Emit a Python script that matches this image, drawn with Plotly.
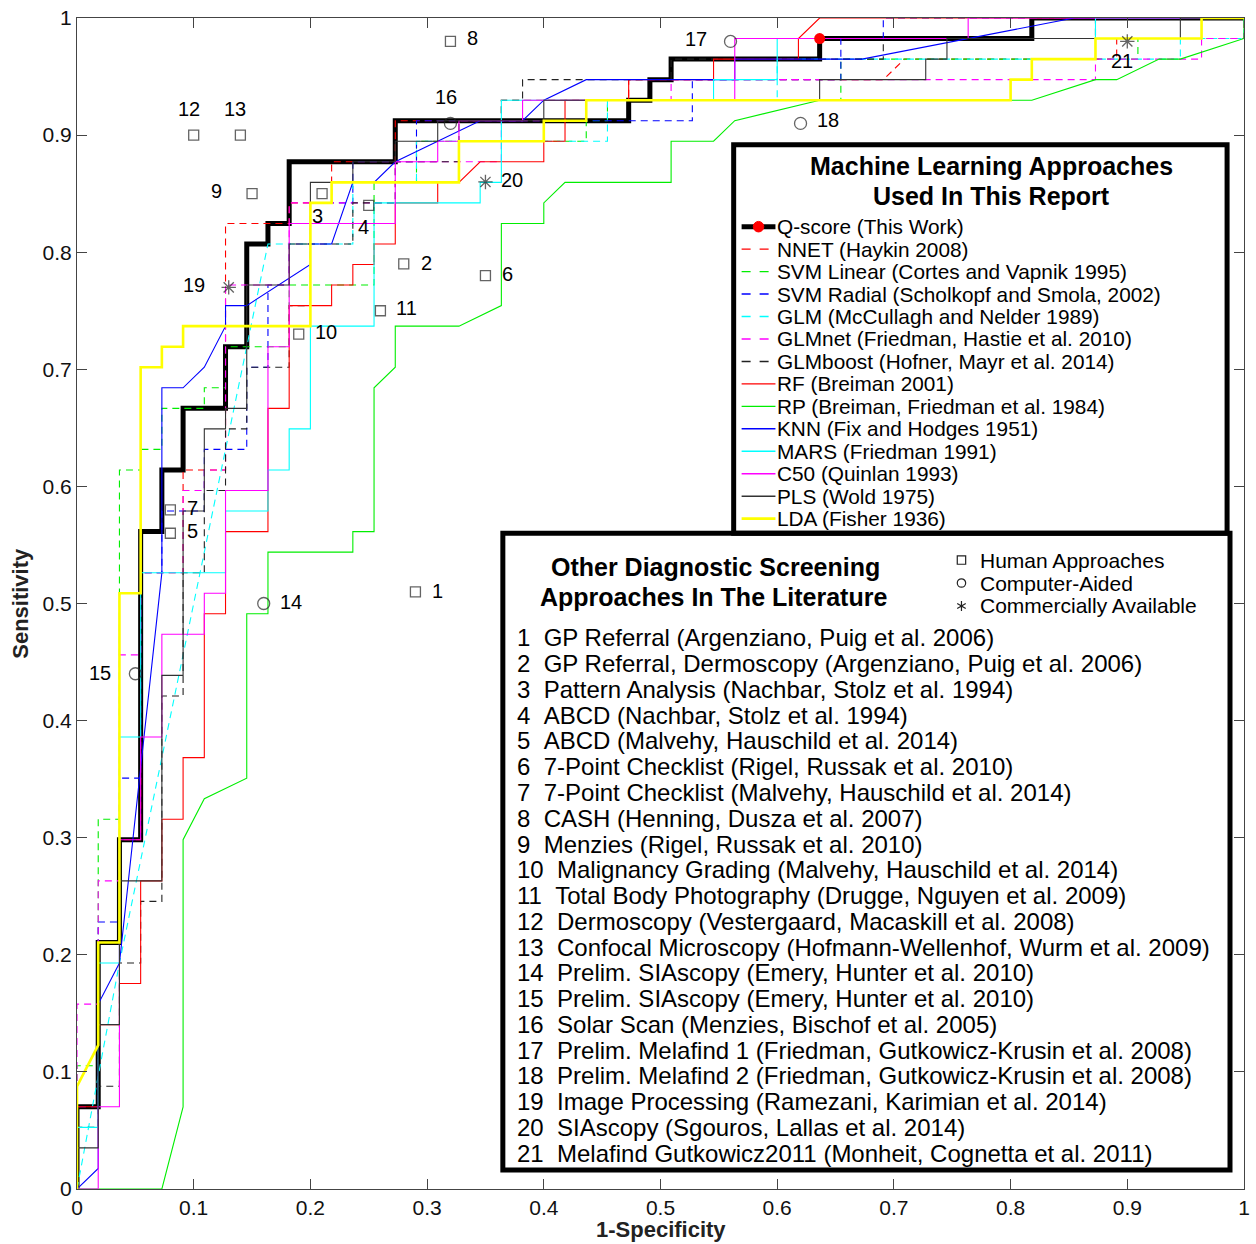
import plotly.graph_objects as go

# Lesion counts behind the ROC rates
N_NEG = 55
N_POS = 57

# ---------------- ROC operating points (false-positive count, true-positive count) ----------------
qscore_fp = [0, 0, 1, 1, 2, 2, 3, 3, 4, 4, 5, 5, 7, 7, 8, 8, 9, 9, 10, 10, 15, 15, 26, 26, 27, 27, 28, 28, 35, 35, 45, 45, 55]
qscore_tp = [0, 4, 4, 12, 12, 17, 17, 32, 32, 35, 35, 38, 38, 41, 41, 46, 46, 47, 47, 50, 50, 52, 52, 53, 53, 54, 54, 55, 55, 56, 56, 57, 57]
qscore_cut_fp = [35]
qscore_cut_tp = [56]

nnet_fp = [0, 0, 1, 1, 2, 2, 3, 3, 5, 5, 7, 7, 10, 10, 12, 12, 15, 15, 20, 20, 26, 26, 38, 39, 49, 49, 55, 55]
nnet_tp = [0, 4, 4, 12, 12, 17, 17, 30, 30, 35, 35, 47, 47, 48, 48, 50, 50, 52, 52, 53, 53, 54, 54, 55, 55, 56, 56, 57]

svml_fp = [0, 0, 1, 1, 2, 2, 3, 3, 4, 4, 6, 6, 7, 7, 10, 10, 14, 14, 16, 16, 24, 24, 25, 25, 36, 36, 50, 50, 55, 55]
svml_tp = [0, 6, 6, 18, 18, 35, 35, 36, 36, 38, 38, 39, 39, 41, 41, 44, 44, 49, 49, 51, 51, 52, 52, 53, 53, 55, 55, 56, 56, 57]

svmr_fp = [0, 0, 1, 1, 2, 2, 3, 3, 4, 4, 6, 6, 8, 8, 9, 9, 10, 10, 11, 11, 13, 13, 16, 16, 29, 29, 36, 36, 38, 38, 55]
svmr_tp = [0, 4, 4, 13, 13, 20, 20, 30, 30, 33, 33, 36, 36, 40, 40, 44, 44, 46, 46, 48, 48, 50, 50, 52, 52, 54, 54, 56, 56, 57, 57]

glm_fp = [0, 2, 9, 13, 13, 16, 16, 25, 25, 33, 33, 52, 52, 55, 55]
glm_tp = [0, 11, 46, 46, 49, 49, 51, 51, 53, 53, 55, 55, 56, 56, 57]

glmnet_fp = [0, 0, 1, 1, 2, 2, 3, 3, 5, 5, 6, 6, 7, 7, 10, 10, 15, 15, 20, 20, 24, 24, 28, 28, 48, 48, 53, 53, 55, 55]
glmnet_tp = [0, 9, 9, 15, 15, 26, 26, 30, 30, 34, 34, 35, 35, 44, 44, 48, 48, 50, 50, 52, 52, 53, 53, 54, 54, 55, 55, 56, 56, 57]

glmboost_fp = [0, 0, 1, 1, 2, 2, 3, 3, 4, 4, 5, 5, 6, 6, 7, 7, 8, 8, 10, 10, 11, 11, 13, 13, 15, 15, 18, 18, 20, 20, 21, 21, 28, 28, 38, 38, 48, 48, 55]
glmboost_tp = [0, 3, 3, 5, 5, 11, 11, 14, 14, 24, 24, 30, 30, 34, 34, 37, 37, 40, 40, 43, 43, 46, 46, 48, 48, 50, 50, 52, 52, 53, 53, 54, 54, 55, 55, 56, 56, 57, 57]

rf_fp = [0, 0, 1, 1, 2, 2, 3, 3, 4, 4, 5, 5, 6, 6, 7, 7, 9, 9, 10, 10, 12, 12, 13, 13, 14, 14, 15, 15, 17, 17, 18, 19, 22, 22, 23, 23, 26, 26, 30, 30, 34, 34, 35, 55]
rf_tp = [0, 4, 4, 8, 8, 10, 10, 15, 15, 18, 18, 21, 21, 28, 28, 32, 32, 38, 38, 43, 43, 44, 44, 45, 45, 46, 46, 48, 48, 49, 49, 50, 50, 51, 51, 53, 53, 54, 54, 55, 55, 56, 57, 57]

rp_fp = [0, 4, 5, 5, 6, 8, 8, 9, 9, 13, 13, 14, 14, 15, 15, 18, 20, 20, 22, 22, 23, 28, 28, 30, 31, 35, 45, 48, 49, 51, 52, 55, 55]
rp_tp = [0, 0, 4, 17, 19, 20, 28, 28, 31, 31, 32, 32, 39, 40, 42, 42, 43, 47, 47, 48, 49, 49, 51, 51, 52, 53, 53, 54, 54, 55, 55, 56, 57]

knn_fp = [0, 1, 1, 2, 4, 4, 5, 6, 7, 7, 8, 11, 11, 12, 13, 14, 15, 17, 19, 21, 22, 24, 31, 31, 37, 47, 55]
knn_tp = [0, 1, 9, 11, 30, 39, 39, 40, 42, 43, 43, 45, 46, 46, 49, 49, 50, 51, 52, 52, 53, 54, 54, 55, 55, 57, 57]

mars_fp = [0, 0, 1, 1, 2, 2, 3, 3, 7, 7, 9, 9, 10, 10, 11, 11, 14, 14, 19, 19, 20, 20, 30, 30, 33, 33, 48, 48, 55]
mars_tp = [0, 3, 3, 11, 11, 22, 22, 30, 30, 33, 33, 35, 35, 37, 37, 42, 42, 48, 48, 49, 49, 53, 53, 54, 54, 56, 56, 57, 57]

c50_fp = [0, 1, 1, 2, 2, 3, 3, 4, 4, 6, 6, 7, 7, 9, 9, 10, 10, 15, 15, 17, 17, 18, 18, 21, 21, 31, 31, 42, 42, 55]
c50_tp = [0, 0, 4, 4, 17, 17, 22, 22, 27, 27, 29, 29, 34, 34, 41, 41, 47, 47, 50, 50, 51, 51, 52, 52, 53, 53, 56, 56, 57, 57]

pls_fp = [0, 0, 1, 1, 2, 2, 4, 4, 5, 5, 6, 6, 7, 7, 8, 8, 10, 10, 11, 11, 13, 13, 15, 15, 17, 17, 22, 22, 35, 35, 40, 40, 41, 41, 52, 52, 55]
pls_tp = [0, 2, 2, 8, 8, 15, 15, 25, 25, 33, 33, 37, 37, 38, 38, 44, 44, 46, 46, 49, 49, 50, 50, 51, 51, 52, 52, 53, 53, 54, 54, 55, 55, 56, 56, 57, 57]

lda_fp = [0, 0, 1, 1, 2, 2, 3, 3, 4, 4, 5, 5, 11, 11, 12, 12, 18, 18, 22, 22, 24, 24, 44, 44, 45, 45, 48, 48, 53, 53, 55]
lda_tp = [0, 5, 7, 12, 12, 29, 29, 40, 40, 41, 41, 42, 42, 48, 48, 49, 49, 51, 51, 52, 52, 53, 53, 54, 54, 55, 55, 56, 56, 57, 57]

# ---------------- Published screening approaches (1-specificity, sensitivity) ----------------
lit_ids = ["1", "2", "3", "4", "5", "6", "7", "8", "9", "10", "11",
           "12", "13", "14", "15", "16", "17", "18", "19", "20", "21"]
lit_fpr = [0.29, 0.28, 0.21, 0.25, 0.08, 0.35, 0.08, 0.32, 0.15, 0.19, 0.26,
           0.10, 0.14, 0.16, 0.05, 0.32, 0.56, 0.62, 0.13, 0.35, 0.90]
lit_sens = [0.51, 0.79, 0.85, 0.84, 0.56, 0.78, 0.58, 0.98, 0.85, 0.73, 0.75,
            0.90, 0.90, 0.50, 0.44, 0.91, 0.98, 0.91, 0.77, 0.86, 0.98]
lit_kind = ["human"] * 13 + ["computer"] * 5 + ["commercial"] * 3

lit_refs = [
    "GP Referral (Argenziano, Puig et al. 2006)",
    "GP Referral, Dermoscopy (Argenziano, Puig et al. 2006)",
    "Pattern Analysis (Nachbar, Stolz et al. 1994)",
    "ABCD (Nachbar, Stolz et al. 1994)",
    "ABCD (Malvehy, Hauschild et al. 2014)",
    "7-Point Checklist (Rigel, Russak et al. 2010)",
    "7-Point Checklist (Malvehy, Hauschild et al. 2014)",
    "CASH (Henning, Dusza et al. 2007)",
    "Menzies (Rigel, Russak et al. 2010)",
    "Malignancy Grading (Malvehy, Hauschild et al. 2014)",
    "Total Body Photography (Drugge, Nguyen et al. 2009)",
    "Dermoscopy (Vestergaard, Macaskill et al. 2008)",
    "Confocal Microscopy (Hofmann-Wellenhof, Wurm et al. 2009)",
    "Prelim. SIAscopy (Emery, Hunter et al. 2010)",
    "Prelim. SIAscopy (Emery, Hunter et al. 2010)",
    "Solar Scan (Menzies, Bischof et al. 2005)",
    "Prelim. Melafind 1 (Friedman, Gutkowicz-Krusin et al. 2008)",
    "Prelim. Melafind 2 (Friedman, Gutkowicz-Krusin et al. 2008)",
    "Image Processing (Ramezani, Karimian et al. 2014)",
    "SIAscopy (Sgouros, Lallas et al. 2014)",
    "Melafind Gutkowicz2011 (Monheit, Cognetta et al. 2011)",
]

FONT = "Liberation Sans, Arial, Helvetica, sans-serif"
MARK = "#222222"

# name, fp, tp, colour, dash, width
models = [
    ("NNET (Haykin 2008)", nnet_fp, nnet_tp, "#ff0000", "7px,5px", 1.1),
    ("SVM Linear (Cortes and Vapnik 1995)", svml_fp, svml_tp, "#00ee00", "7px,5px", 1.1),
    ("SVM Radial (Scholkopf and Smola, 2002)", svmr_fp, svmr_tp, "#0000ff", "7px,5px", 1.1),
    ("GLM (McCullagh and Nelder 1989)", glm_fp, glm_tp, "#00ffff", "7px,5px", 1.1),
    ("GLMnet (Friedman, Hastie et al. 2010)", glmnet_fp, glmnet_tp, "#ff00ff", "7px,5px", 1.1),
    ("GLMboost (Hofner, Mayr et al. 2014)", glmboost_fp, glmboost_tp, "#222222", "7px,5px", 1.1),
    ("RF (Breiman 2001)", rf_fp, rf_tp, "#ff0000", "solid", 1.1),
    ("RP (Breiman, Friedman et al. 1984)", rp_fp, rp_tp, "#00ee00", "solid", 1.1),
    ("KNN (Fix and Hodges 1951)", knn_fp, knn_tp, "#0000ff", "solid", 1.1),
    ("MARS (Friedman 1991)", mars_fp, mars_tp, "#00ffff", "solid", 1.1),
    ("C50 (Quinlan 1993)", c50_fp, c50_tp, "#ff00ff", "solid", 1.1),
    ("PLS (Wold 1975)", pls_fp, pls_tp, "#333333", "solid", 1.1),
    ("LDA (Fisher 1936)", lda_fp, lda_tp, "#ffff00", "solid", 2.6),
]

fig = go.Figure()

# Q-score drawn first so the thinner model curves sit on top of it
fig.add_trace(go.Scatter(
    x=[v / N_NEG for v in qscore_fp], y=[v / N_POS for v in qscore_tp],
    mode="lines", line=dict(color="black", width=5), showlegend=False))

for name, fp, tp, col, dash, w in models:
    fig.add_trace(go.Scatter(
        x=[v / N_NEG for v in fp], y=[v / N_POS for v in tp],
        mode="lines", name=name, line=dict(color=col, dash=dash, width=w),
        showlegend=False))

fig.add_trace(go.Scatter(
    x=[v / N_NEG for v in qscore_cut_fp], y=[v / N_POS for v in qscore_cut_tp],
    mode="markers", marker=dict(color="red", size=11), showlegend=False))

# Literature points
symbol_of = {"human": "square-open", "computer": "circle-open", "commercial": "asterisk-open"}
size_of = {"human": 10, "computer": 12, "commercial": 12}
fig.add_trace(go.Scatter(
    x=lit_fpr, y=lit_sens, mode="markers", showlegend=False,
    marker=dict(symbol=[symbol_of[k] for k in lit_kind],
                size=[size_of[k] for k in lit_kind],
                color=MARK, line=dict(width=1.3, color=MARK))))

# label placement for each literature point (pixel shift, anchor)
label_place = {
    "1": (15, 1, "left"), "2": (15, 1, "left"), "3": (-5, -22, "center"), "4": (-5, -22, "center"),
    "5": (15, 2, "left"), "6": (15, 2, "left"), "7": (15, 2, "left"), "8": (15, 3, "left"),
    "9": (-28, 3, "right"), "10": (14, 2, "left"), "11": (14, 3, "left"), "12": (-5, 26, "center"),
    "13": (-5, 26, "center"), "14": (14, 2, "left"), "15": (-22, 1, "right"), "16": (-4, 26, "center"),
    "17": (-22, 2, "right"), "18": (14, 3, "left"), "19": (-22, 2, "right"), "20": (14, 2, "left"),
    "21": (-5, -20, "center"),
}
annotations = []
for lid, fx, sy in zip(lit_ids, lit_fpr, lit_sens):
    dx, dy, anc = label_place[lid]
    annotations.append(dict(x=fx, y=sy, xref="x", yref="y", text=lid, showarrow=False,
                            xanchor=anc, yanchor="middle", xshift=dx, yshift=dy,
                            font=dict(family=FONT, size=20, color="black")))

shapes = []
BOX1 = dict(x0=0.5627, x1=0.9855, y0=0.560, y1=0.8917)
BOX2 = dict(x0=0.3649, x1=0.9880, y0=0.0162, y1=0.560)
for b in (BOX1, BOX2):
    shapes.append(dict(type="rect", xref="x", yref="y", layer="above",
                       line=dict(color="black", width=5), fillcolor="rgba(255,255,255,0)", **b))

# ---- Box 1: machine-learning legend ----
title1_x = 0.7835
annotations.append(dict(x=title1_x, y=0.8738, xref="x", yref="y", showarrow=False,
                        text="<b>Machine Learning Approaches</b>", xanchor="center", yanchor="middle",
                        font=dict(family=FONT, size=25, color="black")))
annotations.append(dict(x=title1_x, y=0.8483, xref="x", yref="y", showarrow=False,
                        text="<b>Used In This Report</b>", xanchor="center", yanchor="middle",
                        font=dict(family=FONT, size=25, color="black")))

row0, row_step = 0.8218, 0.01918
sw_x0, sw_x1, txt_x = 0.5695, 0.5985, 0.5993
legend_rows = [("Q-score (This Work)", "black", "solid", 5)] + [(m[0], m[3], m[4], m[5]) for m in models]
for i, (label, col, dash, w) in enumerate(legend_rows):
    yy = row0 - i * row_step
    dash_name = "solid" if dash == "solid" else "dash"
    shapes.append(dict(type="line", xref="x", yref="y", layer="above",
                       x0=sw_x0, x1=sw_x1, y0=yy, y1=yy,
                       line=dict(color=col, width=w if w > 2 else 1.4, dash=dash_name)))
    annotations.append(dict(x=txt_x, y=yy, xref="x", yref="y", showarrow=False, text=label,
                            xanchor="left", yanchor="middle", borderpad=0,
                            font=dict(family=FONT, size=20.8, color="black")))
# red cut-off dot on the Q-score swatch
dot_x = (sw_x0 + sw_x1) / 2
shapes.append(dict(type="circle", xref="x", yref="y", layer="above",
                   x0=dot_x - 0.0045, x1=dot_x + 0.0045, y0=row0 - 0.0045, y1=row0 + 0.0045,
                   fillcolor="red", line=dict(color="red", width=1)))

# ---- Box 2: literature legend ----
annotations.append(dict(x=0.5475, y=0.5311, xref="x", yref="y", showarrow=False,
                        text="<b>Other Diagnostic Screening</b>", xanchor="center", yanchor="middle",
                        font=dict(family=FONT, size=25, color="black")))
annotations.append(dict(x=0.5456, y=0.5055, xref="x", yref="y", showarrow=False,
                        text="<b>Approaches In The Literature</b>", xanchor="center", yanchor="middle",
                        font=dict(family=FONT, size=25, color="black")))

sym_x, sym_txt_x = 0.7579, 0.7732
sym_rows = [("Human Approaches", 0.5371), ("Computer-Aided", 0.5175), ("Commercially Available", 0.4979)]
h = 0.0036
# square
shapes.append(dict(type="rect", xref="x", yref="y", layer="above",
                   x0=sym_x - h, x1=sym_x + h, y0=sym_rows[0][1] - h, y1=sym_rows[0][1] + h,
                   line=dict(color=MARK, width=1.2)))
# circle
shapes.append(dict(type="circle", xref="x", yref="y", layer="above",
                   x0=sym_x - h, x1=sym_x + h, y0=sym_rows[1][1] - h, y1=sym_rows[1][1] + h,
                   line=dict(color=MARK, width=1.2)))
# asterisk
ay = sym_rows[2][1]
a = 0.0042
path = (f"M{sym_x},{ay - a} L{sym_x},{ay + a} "
        f"M{sym_x - a * 0.87},{ay - a / 2} L{sym_x + a * 0.87},{ay + a / 2} "
        f"M{sym_x - a * 0.87},{ay + a / 2} L{sym_x + a * 0.87},{ay - a / 2}")
shapes.append(dict(type="path", xref="x", yref="y", layer="above", path=path,
                   line=dict(color=MARK, width=1.2)))
for label, yy in sym_rows:
    annotations.append(dict(x=sym_txt_x, y=yy, xref="x", yref="y", showarrow=False, text=label,
                            xanchor="left", yanchor="middle", borderpad=0,
                            font=dict(family=FONT, size=21, color="black")))

list_x, list_y0, list_step = 0.3751, 0.4706, 0.0220
for i, (lid, ref) in enumerate(zip(lit_ids, lit_refs)):
    annotations.append(dict(x=list_x, y=list_y0 - i * list_step, xref="x", yref="y", showarrow=False,
                            text=f"{lid}\u00a0\u00a0{ref}", xanchor="left", yanchor="middle",
                            font=dict(family=FONT, size=24, color="black")))

# Axis titles
annotations.append(dict(x=0.5, y=-0.035, xref="paper", yref="paper", showarrow=False,
                        text="<b>1-Specificity</b>", xanchor="center", yanchor="middle",
                        font=dict(family=FONT, size=22, color="#222222")))
annotations.append(dict(x=-0.0486, y=0.5, xref="paper", yref="paper", showarrow=False,
                        text="<b>Sensitivity</b>", textangle=-90, xanchor="center", yanchor="middle",
                        font=dict(family=FONT, size=22, color="#222222")))

ticks = [i / 10 for i in range(11)]
tick_text = ["0"] + [f"{t:.1f}" for t in ticks[1:-1]] + ["1"]
axis_common = dict(range=[0, 1], tickvals=ticks, ticktext=tick_text, ticks="inside", ticklen=10,
                   tickcolor="#444444", tickwidth=1, showline=True, linecolor="#444444", linewidth=1,
                   mirror="ticks", showgrid=False, zeroline=False,
                   tickfont=dict(family=FONT, size=21, color="#111111"))

fig.update_layout(
    width=1256, height=1244,
    margin=dict(l=77, r=6, t=16, b=55),
    paper_bgcolor="white", plot_bgcolor="white",
    xaxis=axis_common, yaxis=axis_common,
    shapes=shapes, annotations=annotations, showlegend=False,
)

fig.write_html("out.html")
